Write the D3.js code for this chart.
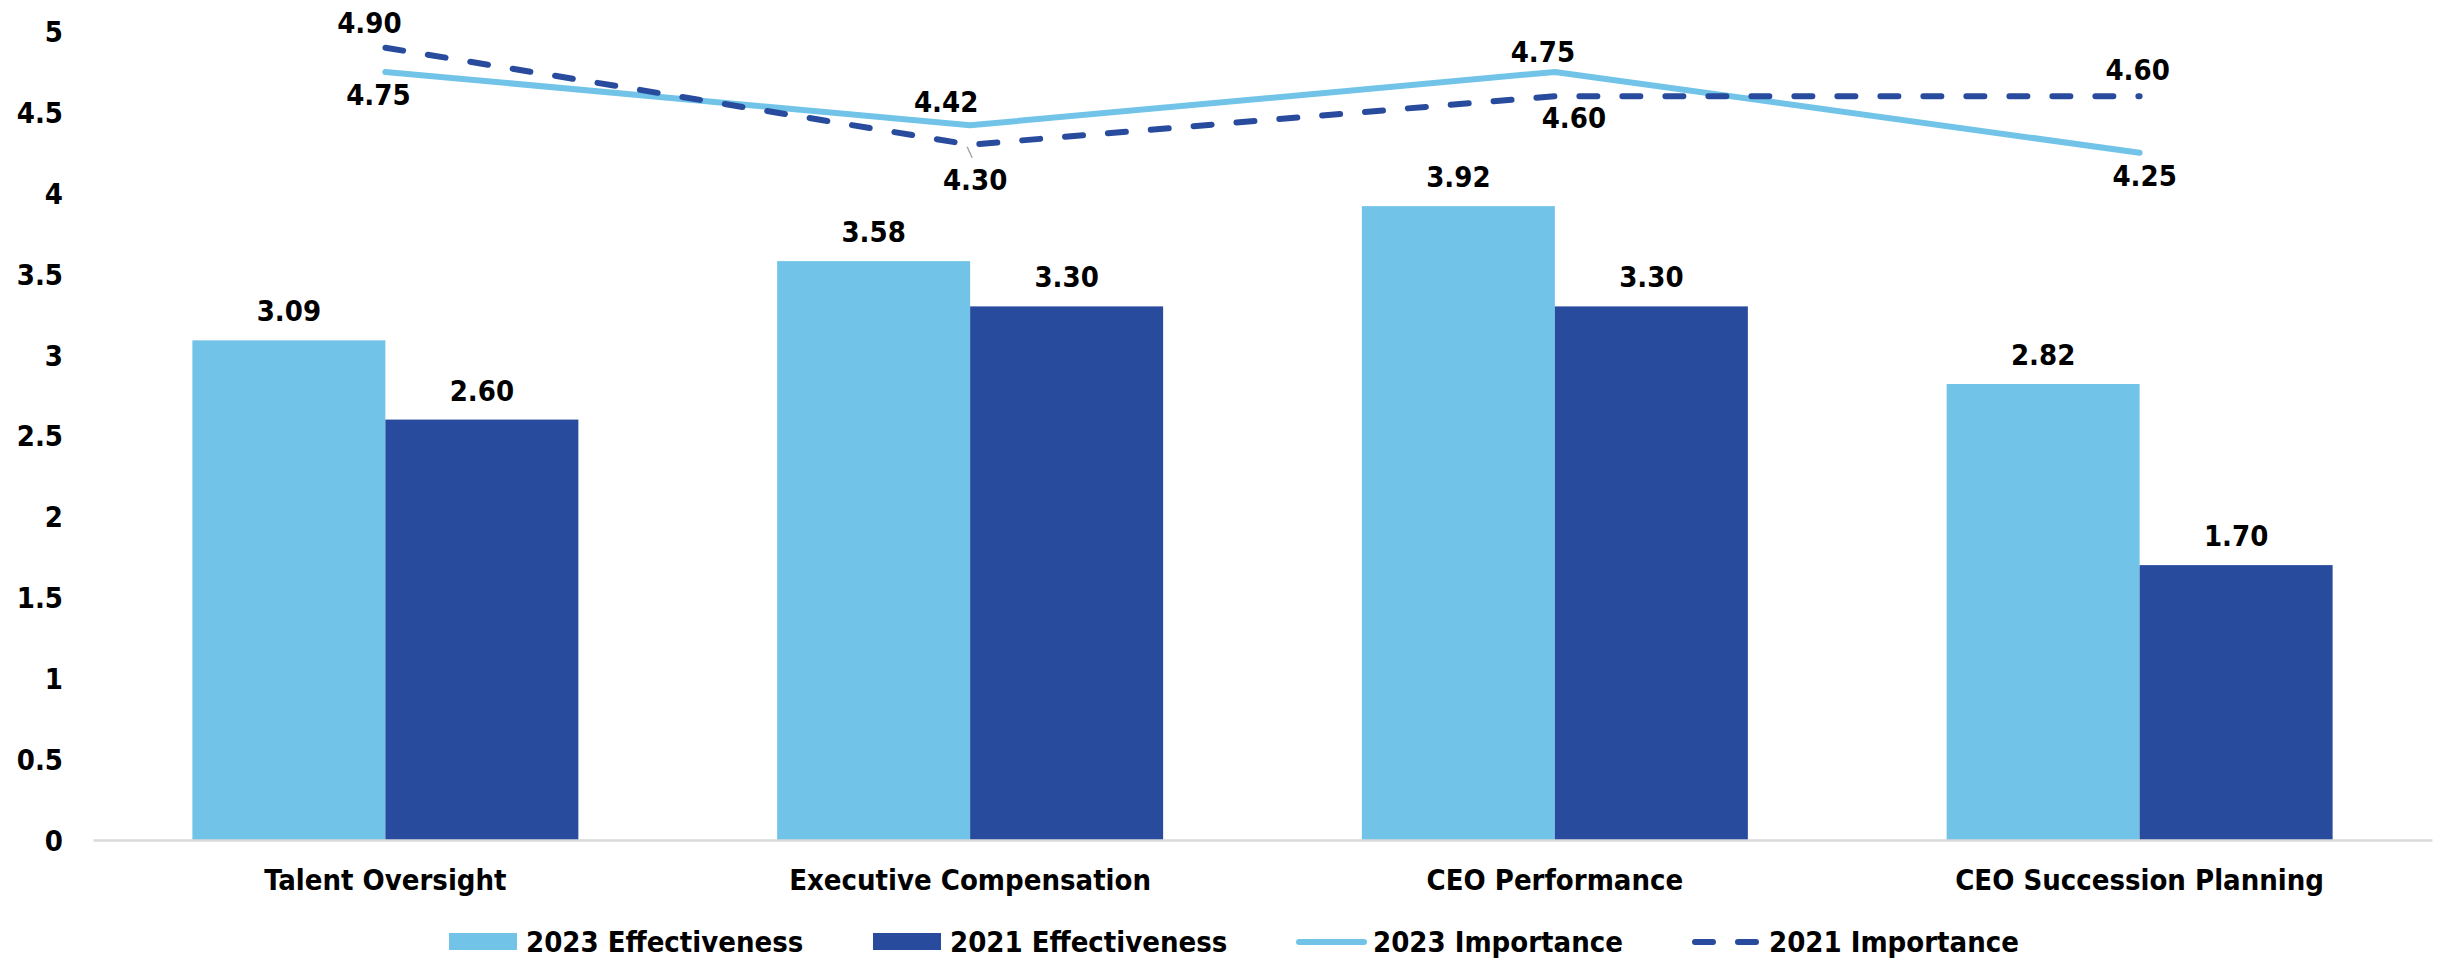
<!DOCTYPE html>
<html>
<head>
<meta charset="utf-8">
<script src="https://cdn.jsdelivr.net/npm/d3@7"></script>
<style>
  html, body { margin: 0; padding: 0; background: #fff; }
  svg text { font-family: "DejaVu Sans Condensed", "DejaVu Sans", sans-serif; font-weight: bold; fill: #000; }
</style>
</head>
<body>
<svg id="chart" width="2446" height="960"></svg>
<script>
// Categories and series
const categories = ["Talent Oversight", "Executive Compensation", "CEO Performance", "CEO Succession Planning"];
const effectiveness2023 = [3.09, 3.58, 3.92, 2.82];
const effectiveness2021 = [2.60, 3.30, 3.30, 1.70];
const importance2023 = [4.75, 4.42, 4.75, 4.25];
const importance2021 = [4.90, 4.30, 4.60, 4.60];
const yTicks = [0, 0.5, 1, 1.5, 2, 2.5, 3, 3.5, 4, 4.5, 5];

// Label nudges for the line series [dx, dy] relative to each point
const importance2023LabelOffsets = [[-7, 33], [-24, -13], [-12, -10], [5, 33]];
const importance2021LabelOffsets = [[-16, -15], [5, 45], [19, 32], [-2, -16]];

const colors = { light: "#71C4E8", dark: "#284B9D", axis: "#D9D9D9" };
const fontSize = 29;

const svg = d3.select("#chart");
const margin = { left: 93, right: 14, top: 31.5, bottom: 120 };
const W = 2446, H = 960;

const x = d3.scaleBand().domain(categories).range([margin.left, W - margin.right]).padding(0);
const xInner = d3.scaleBand().domain(["2023", "2021"]).range([0, x.bandwidth()]).paddingInner(0).paddingOuter(0.515);
const y = d3.scaleLinear().domain([0, 5]).range([H - margin.bottom, margin.top]);

// Y axis labels (no axis line, no ticks)
const yAxis = svg.append("g")
  .attr("transform", `translate(${margin.left - 30},0)`)
  .call(d3.axisLeft(y).tickValues(yTicks).tickFormat(d3.format("~g")).tickSize(0).tickPadding(0));
yAxis.select(".domain").remove();
yAxis.selectAll("text")
  .style("font-size", fontSize + "px")
  .style("font-family", null)
  .attr("dy", "0.35em");

// Bars
const barSeries = [
  { key: "2023", values: effectiveness2023, color: colors.light },
  { key: "2021", values: effectiveness2021, color: colors.dark }
];
barSeries.forEach(s => {
  const g = svg.append("g");
  g.selectAll("rect").data(s.values).join("rect")
    .attr("x", (d, i) => x(categories[i]) + xInner(s.key))
    .attr("y", d => y(d))
    .attr("width", xInner.bandwidth())
    .attr("height", d => y(0) - y(d))
    .attr("fill", s.color);
  g.selectAll("text").data(s.values).join("text")
    .attr("x", (d, i) => x(categories[i]) + xInner(s.key) + xInner.bandwidth() / 2)
    .attr("y", d => y(d) - 19)
    .attr("text-anchor", "middle")
    .style("font-size", fontSize + "px")
    .text(d => d.toFixed(2));
});

// X axis baseline and category labels
const xAxis = svg.append("g")
  .attr("transform", `translate(0,${y(0)})`)
  .call(d3.axisBottom(x).tickSize(0).tickPadding(50));
xAxis.select(".domain").attr("stroke", colors.axis).attr("stroke-width", 2.5);
xAxis.selectAll("text").style("font-size", fontSize + "px").style("font-family", null).attr("dy", 0);

// Lines
const cx = i => x(categories[i]) + x.bandwidth() / 2;
const line = d3.line().x((d, i) => cx(i)).y(d => y(d));

svg.append("path").datum(importance2023)
  .attr("d", line).attr("fill", "none")
  .attr("stroke", colors.light).attr("stroke-width", 6)
  .attr("stroke-linecap", "round").attr("stroke-linejoin", "round");

svg.append("path").datum(importance2021)
  .attr("d", line).attr("fill", "none")
  .attr("stroke", colors.dark).attr("stroke-width", 6)
  .attr("stroke-dasharray", "18,25")
  .attr("stroke-linecap", "round").attr("stroke-linejoin", "round");

// Leader line for the Executive Compensation 2021 label
svg.append("line")
  .attr("x1", cx(1) - 3).attr("y1", y(importance2021[1]) + 2)
  .attr("x2", cx(1) + 2).attr("y2", y(importance2021[1]) + 13)
  .attr("stroke", "#A6A6A6").attr("stroke-width", 1.5);

function lineLabels(values, offsets) {
  svg.append("g").selectAll("text").data(values).join("text")
    .attr("x", (d, i) => cx(i) + offsets[i][0])
    .attr("y", (d, i) => y(d) + offsets[i][1])
    .attr("text-anchor", "middle")
    .style("font-size", fontSize + "px")
    .text(d => d.toFixed(2));
}
lineLabels(importance2023, importance2023LabelOffsets);
lineLabels(importance2021, importance2021LabelOffsets);

// Legend
const legendItems = [
  { label: "2023 Effectiveness", type: "rect", color: colors.light, x: 449 },
  { label: "2021 Effectiveness", type: "rect", color: colors.dark, x: 873 },
  { label: "2023 Importance", type: "line", color: colors.light, x: 1296 },
  { label: "2021 Importance", type: "dash", color: colors.dark, x: 1692 }
];
const legendY = 942;
const lg = svg.append("g");
legendItems.forEach(it => {
  if (it.type === "rect") {
    lg.append("rect").attr("x", it.x).attr("y", legendY - 9).attr("width", 68).attr("height", 17).attr("fill", it.color);
  } else {
    lg.append("line")
      .attr("x1", it.x + 3).attr("x2", it.x + 68).attr("y1", legendY).attr("y2", legendY)
      .attr("stroke", it.color).attr("stroke-width", 6).attr("stroke-linecap", "round")
      .attr("stroke-dasharray", it.type === "dash" ? "18,25" : null);
  }
  lg.append("text")
    .attr("x", it.x + 77).attr("y", legendY).attr("dy", "0.36em")
    .style("font-size", fontSize + "px")
    .text(it.label);
});
</script>
</body>
</html>
